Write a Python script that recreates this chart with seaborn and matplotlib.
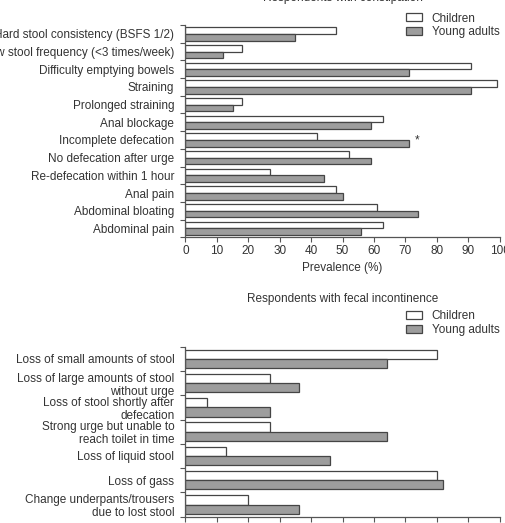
import numpy as np
import pandas as pd
import matplotlib
matplotlib.use("Agg")
import matplotlib.pyplot as plt
import seaborn as sns

con_cats = ["Hard stool consistency (BSFS 1/2)", "Low stool frequency (<3 times/week)",
            "Difficulty emptying bowels", "Straining", "Prolonged straining", "Anal blockage",
            "Incomplete defecation", "No defecation after urge", "Re-defecation within 1 hour",
            "Anal pain", "Abdominal bloating", "Abdominal pain"]
con_children = [48, 18, 91, 99, 18, 63, 42, 52, 27, 48, 61, 63]
con_adults = [35, 12, 71, 91, 15, 59, 71, 59, 44, 50, 74, 56]

fi_cats = ["Loss of small amounts of stool", "Loss of large amounts of stool\nwithout urge",
           "Loss of stool shortly after\ndefecation", "Strong urge but unable to\nreach toilet in time",
           "Loss of liquid stool", "Loss of gass", "Change underpants/trousers\ndue to lost stool"]
fi_children = [80, 27, 7, 27, 13, 80, 20]
fi_adults = [64, 36, 27, 64, 46, 82, 36]

groups = ["Children", "Young adults"]
xticks = list(range(0, 101, 10))

sns.set_theme(style="white")
plt.rcParams["font.family"] = ["Liberation Sans", "DejaVu Sans"]
TXT = "#333333"
EDGE = "#454545"
FS = 8.5

W, H = 506, 523
fig = plt.figure(figsize=(W / 100, H / 100), dpi=100)

def px_ax(l, t, r, b):
    return fig.add_axes([l / W, 1 - b / H, (r - l) / W, (b - t) / H])

ax1 = px_ax(185.4, 25, 499.7, 237.3)
ax2 = px_ax(185.4, 346.6, 499.7, 516.7)

pal = {"Children": "white", "Young adults": "#9d9d9d"}

def draw(ax, cats, ch, ad, labels_x=True):
    n = len(cats)
    df = pd.DataFrame({"symptom": cats * 2, "prev": ch + ad,
                       "group": [groups[0]] * n + [groups[1]] * n})
    sns.barplot(data=df, y="symptom", x="prev", hue="group", orient="h",
                palette=pal, edgecolor=EDGE, linewidth=0.9, width=0.76,
                errorbar=None, ax=ax)
    ax.set_xlim(0, 100)
    ax.set_ylim(n - 0.5, -0.5)
    ax.set_xticks(xticks)
    ax.set_yticks(np.arange(-0.5, n, 1.0), minor=True)
    ax.tick_params(axis="y", which="major", length=0, labelsize=FS, colors=TXT, pad=8)
    ax.tick_params(axis="y", which="minor", length=3.5, width=0.8, color="#555555", direction="out", left=True)
    ax.tick_params(axis="x", length=3.5, width=0.8, color="#555555", labelsize=FS,
                   colors=TXT, bottom=True, labelbottom=labels_x, pad=2)
    for s in ["top", "right"]:
        ax.spines[s].set_visible(False)
    for s in ["left", "bottom"]:
        ax.spines[s].set_color("#555555")
        ax.spines[s].set_linewidth(0.9)
    ax.set_ylabel("")
    ax.set_xlabel("")
    h, l = ax.get_legend_handles_labels()
    ax.legend_.remove()
    return h, l

h, l = draw(ax1, con_cats, con_children, con_adults, True)
ax1.set_xlabel("Prevalence (%)", fontsize=FS, color=TXT, labelpad=4)
ax1.text(73, 6.0, "*", fontsize=FS, color=TXT, ha="left", va="center")

h2, l2 = draw(ax2, fi_cats, fi_children, fi_adults, False)
for t in ax2.get_yticklabels():
    t.set_linespacing(1.12)

def leg(handles, labels, x, y):
    fig.legend(handles, labels, loc="upper left", bbox_to_anchor=(x / W, 1 - y / H),
               frameon=False, fontsize=FS, handlelength=1.4, handleheight=0.68,
               handletextpad=0.8, labelspacing=0.15, borderpad=0, borderaxespad=0,
               labelcolor=TXT)

leg(h, l, 405.7, 12.5)
leg(h2, l2, 405.7, 310)

fig.text(343 / W, 1 - 1.5 / H, "Respondents with constipation", ha="center", va="baseline",
         fontsize=FS, color=TXT)
fig.text(343 / W, 1 - 302 / H, "Respondents with fecal incontinence", ha="center", va="baseline",
         fontsize=FS, color=TXT)

fig.savefig("out.png", dpi=100)
